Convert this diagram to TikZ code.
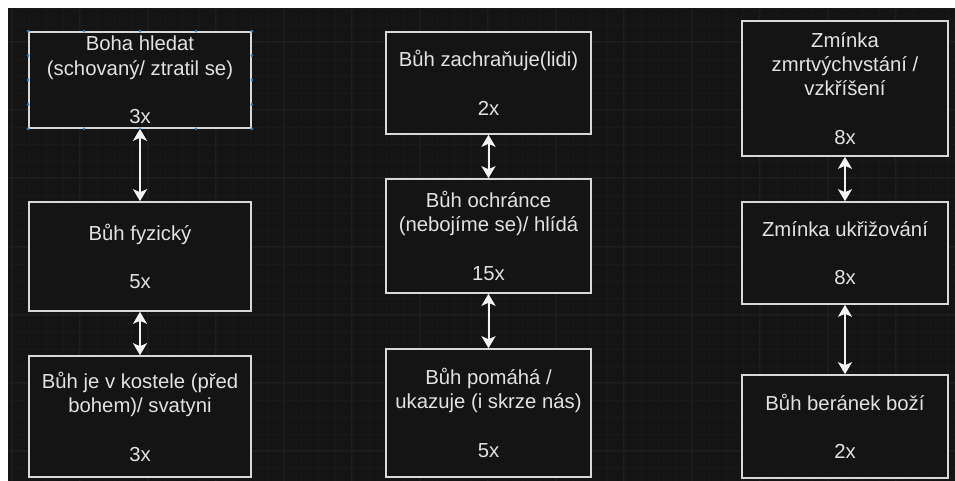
\documentclass[tikz,border=0pt]{standalone}
\usepackage{fontspec}
\setmainfont{Liberation Sans}
\usetikzlibrary{arrows.meta,calc}
\definecolor{bg}{HTML}{141414}
\definecolor{gridminor}{HTML}{191919}
\definecolor{gridmajor}{HTML}{1E1E1E}
\definecolor{boxline}{HTML}{D8D8D8}
\definecolor{txt}{HTML}{E2E2E2}
\definecolor{arrowc}{HTML}{F2F2F2}
\definecolor{handle}{HTML}{2E8BD6}
\tikzset{
  box/.style={draw=boxline, line width=1.6pt, fill=bg, text=txt, align=center,
    inner sep=0pt, font=\fontsize{20.3}{24.3}\selectfont},
  link/.style={draw=arrowc, line width=2pt,
    {Stealth[length=12pt,width=14pt,inset=3pt]}-{Stealth[length=12pt,width=14pt,inset=3pt]}},
  hdl/.style={fill=handle}
}
\begin{document}
\begin{tikzpicture}[x=1pt,y=-1pt]
\useasboundingbox (0,0) rectangle (955,481);
\fill[white] (0,0) rectangle (955,481);
\fill[bg] (8,9) rectangle (955,481);
% grid
\foreach \gx in {12,29,...,955} \draw[gridminor, line width=1pt] (\gx,9) -- (\gx,481);
\foreach \gy in {9,26,...,481} \draw[gridminor, line width=1pt] (8,\gy) -- (955,\gy);
\foreach \gx in {11,79,...,955} \draw[gridmajor, line width=1pt] (\gx,9) -- (\gx,481);
\foreach \gy in {42,110,...,481} \draw[gridmajor, line width=1pt] (8,\gy) -- (955,\gy);

% left column
\node[box, minimum width=222pt, minimum height=96pt] (L1) at (140,80)
  {Boha hledat\\(schovaný/ ztratil se)\\\\3x};
\node[box, minimum width=222pt, minimum height=109pt] (L2) at (140,256.5)
  {Bůh fyzický\\\\5x};
\node[box, minimum width=222pt, minimum height=121pt] (L3) at (140,416.5)
  {Bůh je v kostele (před\\bohem)/ svatyni\\\\3x};

% middle column
\node[box, minimum width=205pt, minimum height=102pt] (M1) at (488.5,83)
  {Bůh zachraňuje(lidi)\\\\2x};
\node[box, minimum width=205pt, minimum height=114pt] (M2) at (488.5,236)
  {Bůh ochránce\\(nebojíme se)/ hlídá\\\\15x};
\node[box, minimum width=205pt, minimum height=128pt] (M3) at (488.5,413)
  {Bůh pomáhá /\\ukazuje (i skrze nás)\\\\5x};

% right column
\node[box, minimum width=206pt, minimum height=135pt] (R1) at (845,88.5)
  {Zmínka\\zmrtvýchvstání /\\vzkříšení\\\\8x};
\node[box, minimum width=206pt, minimum height=102pt] (R2) at (845,253)
  {Zmínka ukřižování\\\\8x};
\node[box, minimum width=206pt, minimum height=103pt] (R3) at (845,426.5)
  {Bůh beránek boží\\\\2x};

% connectors
\draw[link] (L1.south) -- (L2.north);
\draw[link] (L2.south) -- (L3.north);
\draw[link] (M1.south) -- (M2.north);
\draw[link] (M2.south) -- (M3.north);
\draw[link] (R1.south) -- (R2.north);
\draw[link] (R2.south) -- (R3.north);

% selection handles on L1
\foreach \f in {0,0.25,0.5,0.75,1} {
  \fill[hdl] ($(L1.north west)!\f!(L1.north east)$) circle (1.5pt);
  \fill[hdl] ($(L1.south west)!\f!(L1.south east)$) circle (1.5pt);
}
\foreach \f in {0.25,0.5,0.75} {
  \fill[hdl] ($(L1.north west)!\f!(L1.south west)$) circle (1.5pt);
  \fill[hdl] ($(L1.north east)!\f!(L1.south east)$) circle (1.5pt);
}
\end{tikzpicture}
\end{document}
